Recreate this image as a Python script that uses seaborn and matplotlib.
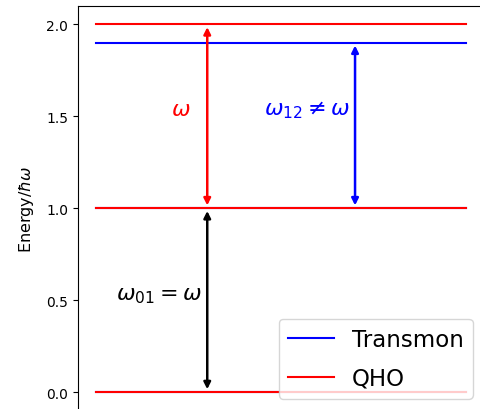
import pandas as pd
import matplotlib
matplotlib.use("Agg")
import matplotlib.pyplot as plt
import seaborn as sns

# energy levels (in units of hbar*omega)
transmon_levels = [0.0, 1.0, 1.9]
qho_levels = [0.0, 1.0, 2.0]
line_x = [0.0, 1.0]

rows = []
for i, e in enumerate(transmon_levels):
    for x in line_x:
        rows.append({"x": x, "E": e, "level": i, "model": "Transmon"})
for i, e in enumerate(qho_levels):
    for x in line_x:
        rows.append({"x": x, "E": e, "level": i, "model": "QHO"})
df = pd.DataFrame(rows)

fig = plt.figure(figsize=(4.81, 4.10), dpi=100)
ax = fig.add_axes([0.162, -0.0035, 0.845, 0.9865])

sns.lineplot(data=df, x="x", y="E", hue="model", units="level", estimator=None,
             palette={"Transmon": "blue", "QHO": "red"}, linewidth=1.5, ax=ax)

# transitions
ax.annotate("", xy=(0.3, 2.0), xytext=(0.3, 1.0),
            arrowprops=dict(arrowstyle="<|-|>", color="red", lw=1.8, mutation_scale=10))
ax.annotate("", xy=(0.7, 1.9), xytext=(0.7, 1.0),
            arrowprops=dict(arrowstyle="<|-|>", color="blue", lw=1.8, mutation_scale=10))
ax.annotate("", xy=(0.3, 1.0), xytext=(0.3, 0.0),
            arrowprops=dict(arrowstyle="<|-|>", color="black", lw=1.8, mutation_scale=10))

ax.text(0.228, 1.54, r"$\omega$", color="red", fontsize=16, ha="center", va="center")
ax.text(0.571, 1.54, r"$\omega_{12} \neq \omega$", color="blue", fontsize=16, ha="center", va="center")
ax.text(0.17, 0.53, r"$\omega_{01} = \omega$", color="black", fontsize=16, ha="center", va="center")

ax.set_xlim(-0.05, 1.05)
ax.set_ylim(-0.1, 2.1)
ax.set_xticks([])
ax.set_yticks([0.0, 0.5, 1.0, 1.5, 2.0])
ax.set_xlabel("")
ax.set_ylabel(r"Energy/$\hbar\omega$", fontsize=11.5, labelpad=7)
ax.legend(loc="lower right", fontsize=16.5, title=None, labelspacing=0.7)

fig.savefig("out.png", dpi=100)
